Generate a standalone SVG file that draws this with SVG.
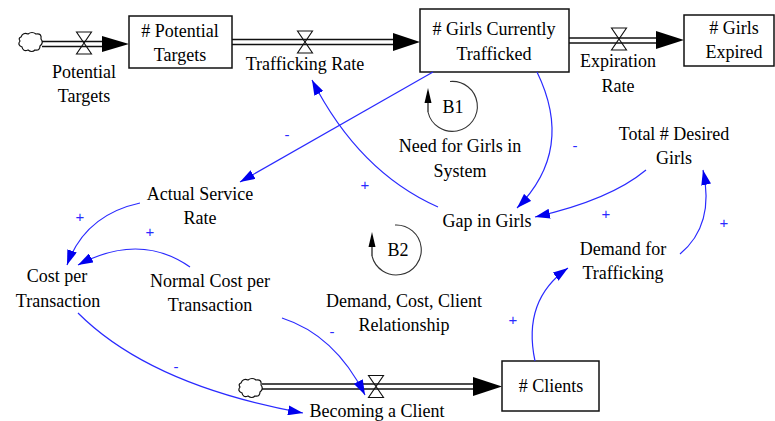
<svg xmlns="http://www.w3.org/2000/svg" width="775" height="421" viewBox="0 0 775 421">
<defs>
<marker id="ah" markerUnits="userSpaceOnUse" markerWidth="15" markerHeight="10" refX="15" refY="5" orient="auto" viewBox="0 0 15 10">
<path d="M0,0 L15,5 L0,10 z" fill="#0000ee"/>
</marker>
<path id="cloudShape" fill="#fff" stroke="#111" stroke-width="1.2" d="M-9,-6 q2,-5 7,-3 q4,-3 8,0 q6,-1 5,5 q3,4 -1,7 q0,5 -5,4 q-3,3 -7,0 q-5,2 -6,-3 q-5,-2 -2,-6 q-2,-3 1,-4 z"/>
<path id="valveShape" fill="none" stroke="#111" stroke-width="1.1" d="M-7.5,-11 L7.5,-11 L0,0 z M-7.5,11 L7.5,11 L0,0 z"/>
</defs>

<g id="pipes" stroke="#111" stroke-width="1.3">
<use href="#cloudShape" x="30" y="43"/>
<line x1="42" y1="41.5" x2="104" y2="41.5"/>
<line x1="42" y1="46.5" x2="104" y2="46.5"/>
<polygon points="102,36 129,44 102,52" fill="#000" stroke="none"/>
<line x1="232" y1="39.5" x2="395" y2="39.5"/>
<line x1="232" y1="44.5" x2="395" y2="44.5"/>
<polygon points="393,33 420,42 393,51" fill="#000" stroke="none"/>
<line x1="569" y1="38" x2="658" y2="38"/>
<line x1="569" y1="43" x2="658" y2="43"/>
<polygon points="656,31 684,40 656,49" fill="#000" stroke="none"/>
<use href="#cloudShape" x="250" y="389"/>
<line x1="262" y1="384" x2="475" y2="384"/>
<line x1="262" y1="389" x2="475" y2="389"/>
<polygon points="473,377 502,386.5 473,396" fill="#000" stroke="none"/>
</g>

<g id="potential-targets-stock">
<rect x="129" y="16" width="103" height="52" fill="#fff" stroke="#111" stroke-width="1.5"/>
<text x="180" y="37" font-family="Liberation Serif" font-size="18" text-anchor="middle"># Potential</text>
<text x="180" y="61" font-family="Liberation Serif" font-size="18" text-anchor="middle">Targets</text>
</g>
<g id="girls-trafficked-stock">
<rect x="420" y="9" width="149" height="63" fill="#fff" stroke="#111" stroke-width="1.5"/>
<text x="494" y="35" font-family="Liberation Serif" font-size="18" text-anchor="middle"># Girls Currently</text>
<text x="494" y="60" font-family="Liberation Serif" font-size="18" text-anchor="middle">Trafficked</text>
</g>
<g id="girls-expired-stock">
<rect x="684" y="15" width="90" height="51" fill="#fff" stroke="#111" stroke-width="1.5"/>
<text x="734" y="34" font-family="Liberation Serif" font-size="18" text-anchor="middle"># Girls</text>
<text x="734" y="58" font-family="Liberation Serif" font-size="18" text-anchor="middle">Expired</text>
</g>
<g id="clients-stock">
<rect x="502" y="361" width="97" height="50" fill="#fff" stroke="#111" stroke-width="1.5"/>
<text x="551" y="392" font-family="Liberation Serif" font-size="18" text-anchor="middle"># Clients</text>
</g>

<g id="potential-targets-flow">
<use href="#valveShape" x="84" y="43"/>
<text x="84" y="78" font-family="Liberation Serif" font-size="18" text-anchor="middle">Potential</text>
<text x="84" y="102" font-family="Liberation Serif" font-size="18" text-anchor="middle">Targets</text>
</g>
<g id="trafficking-rate-flow">
<use href="#valveShape" x="305" y="42"/>
<text x="305" y="70" font-family="Liberation Serif" font-size="18" text-anchor="middle">Trafficking Rate</text>
</g>
<g id="expiration-rate-flow">
<use href="#valveShape" x="619" y="39"/>
<text x="618" y="67" font-family="Liberation Serif" font-size="18" text-anchor="middle">Expiration</text>
<text x="618" y="92" font-family="Liberation Serif" font-size="18" text-anchor="middle">Rate</text>
</g>
<g id="becoming-client-flow">
<use href="#valveShape" x="376" y="386.5"/>
<text x="377" y="417" font-family="Liberation Serif" font-size="18" text-anchor="middle">Becoming a Client</text>
</g>

<g id="actual-service-rate">
<text x="200" y="200" font-family="Liberation Serif" font-size="18" text-anchor="middle">Actual Service</text>
<text x="200" y="224" font-family="Liberation Serif" font-size="18" text-anchor="middle">Rate</text>
</g>
<g id="cost-per-transaction">
<text x="57" y="282" font-family="Liberation Serif" font-size="18" text-anchor="middle">Cost per</text>
<text x="58" y="307" font-family="Liberation Serif" font-size="18" text-anchor="middle">Transaction</text>
</g>
<g id="normal-cost-per-transaction">
<text x="210" y="287" font-family="Liberation Serif" font-size="18" text-anchor="middle">Normal Cost per</text>
<text x="210" y="311" font-family="Liberation Serif" font-size="18" text-anchor="middle">Transaction</text>
</g>
<g id="gap-in-girls">
<text x="487" y="227" font-family="Liberation Serif" font-size="18" text-anchor="middle">Gap in Girls</text>
</g>
<g id="total-desired-girls">
<text x="674" y="140" font-family="Liberation Serif" font-size="18" text-anchor="middle">Total # Desired</text>
<text x="674" y="164" font-family="Liberation Serif" font-size="18" text-anchor="middle">Girls</text>
</g>
<g id="demand-for-trafficking">
<text x="623" y="255" font-family="Liberation Serif" font-size="18" text-anchor="middle">Demand for</text>
<text x="623" y="279" font-family="Liberation Serif" font-size="18" text-anchor="middle">Trafficking</text>
</g>

<g id="loop-b1">
<path d="M450,81.5 A25,25 0 1 1 428,112" fill="none" stroke="#333" stroke-width="1.1"/>
<line x1="428" y1="100" x2="428" y2="112" stroke="#111" stroke-width="1.2"/>
<polygon points="428,88 424.5,103 431.5,103" fill="#000"/>
<text x="453" y="113" font-family="Liberation Serif" font-size="18" text-anchor="middle">B1</text>
<text x="460" y="152" font-family="Liberation Serif" font-size="18" text-anchor="middle">Need for Girls in</text>
<text x="460" y="177" font-family="Liberation Serif" font-size="18" text-anchor="middle">System</text>
</g>
<g id="loop-b2">
<path d="M395,225 A25,25 0 1 1 372,256" fill="none" stroke="#333" stroke-width="1.1"/>
<line x1="372" y1="244" x2="372" y2="256" stroke="#111" stroke-width="1.2"/>
<polygon points="372,232 368.5,247 375.5,247" fill="#000"/>
<text x="398" y="256" font-family="Liberation Serif" font-size="18" text-anchor="middle">B2</text>
<text x="404" y="307" font-family="Liberation Serif" font-size="18" text-anchor="middle">Demand, Cost, Client</text>
<text x="404" y="331" font-family="Liberation Serif" font-size="18" text-anchor="middle">Relationship</text>
</g>

<g id="connectors" fill="none" stroke="#2a2aff" stroke-width="1.2">
<path marker-end="url(#ah)" d="M433,72 Q340,125 240,182"/>
<path marker-end="url(#ah)" d="M438,207 Q359,172 312,80"/>
<path marker-end="url(#ah)" d="M537,72 Q575,150 517,208"/>
<path marker-end="url(#ah)" d="M646,170 Q610,200 535,217"/>
<path marker-end="url(#ah)" d="M680,254 Q715,225 703,170"/>
<path marker-end="url(#ah)" d="M535,361 Q522,300 568,268"/>
<path marker-end="url(#ah)" d="M140,203 Q85,215 67,265"/>
<path marker-end="url(#ah)" d="M190,267 Q140,232 78,265"/>
<path marker-end="url(#ah)" d="M78,313 Q150,385 303,413"/>
<path marker-end="url(#ah)" d="M282,318 Q335,335 365,395"/>
</g>
<g id="polarities" fill="#2a2aff">
<text x="287" y="140" font-family="Liberation Sans" font-size="15" text-anchor="middle">-</text>
<text x="365" y="190" font-family="Liberation Sans" font-size="15" text-anchor="middle">+</text>
<text x="575" y="151" font-family="Liberation Sans" font-size="15" text-anchor="middle">-</text>
<text x="606" y="219" font-family="Liberation Sans" font-size="15" text-anchor="middle">+</text>
<text x="724" y="228" font-family="Liberation Sans" font-size="15" text-anchor="middle">+</text>
<text x="513" y="325" font-family="Liberation Sans" font-size="15" text-anchor="middle">+</text>
<text x="80" y="222" font-family="Liberation Sans" font-size="15" text-anchor="middle">+</text>
<text x="150" y="237" font-family="Liberation Sans" font-size="15" text-anchor="middle">+</text>
<text x="176" y="372" font-family="Liberation Sans" font-size="15" text-anchor="middle">-</text>
<text x="332" y="337" font-family="Liberation Sans" font-size="15" text-anchor="middle">-</text>
</g>
</svg>
